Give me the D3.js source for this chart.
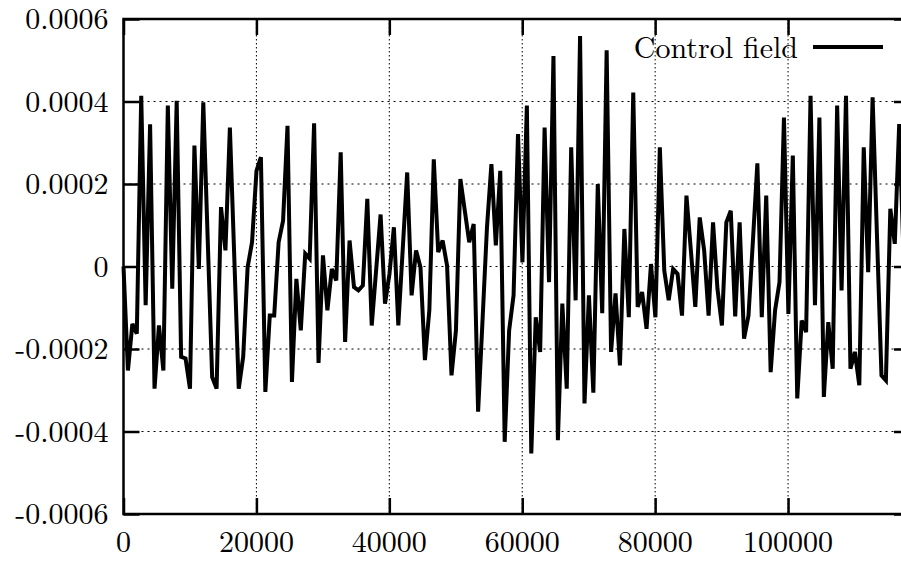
<!DOCTYPE html>
<html><head><meta charset="utf-8">
<script src="https://cdn.jsdelivr.net/npm/d3@7"></script>
<style>html,body{margin:0;padding:0;background:#fff;overflow:hidden}</style>
</head><body>
<script>
// ---- data ----
const stepX = 667;
const controlField = [
 0,-2.52,-1.39,-1.63,4.14,-0.94,3.45,-2.96,-1.43,-2.52,
 3.90,-0.54,4.02,-2.19,-2.23,-2.96,2.93,-0.06,3.98,0.65,
 -2.68,-2.96,1.44,0.39,3.37,0.20,-2.96,-2.19,-0.02,0.59,
 2.32,2.65,-3.04,-1.19,-1.19,0.59,1.11,3.41,-2.80,-0.30,
 -1.55,0.31,0.19,3.47,-2.34,0.27,-1.06,-0.06,-0.34,2.77,
 -1.83,0.63,-0.50,-0.58,-0.46,1.64,-1.43,-0.08,1.26,-0.90,
 -0.18,0.95,-1.43,0.43,2.28,-0.70,0.39,-0.02,-2.27,-1.06,
 2.60,0.35,0.63,0.02,-2.64,-1.55,2.12,1.35,0.59,1.03,
 -3.52,-1.30,0.95,2.48,0.51,2.32,-4.25,-1.55,-0.70,3.21,
 0.10,3.90,-4.53,-1.23,-2.07,3.37,-0.38,5.10,-4.21,-0.90,
 -2.96,2.89,-0.82,5.59,-3.32,-0.70,-3.06,2.00,-1.13,5.24,
 -2.07,-0.65,-2.40,0.91,-1.23,4.22,-0.98,-0.62,-1.51,0.06,
 -1.23,2.89,-0.10,-0.82,-0.06,-0.18,-1.19,1.72,0.39,-0.98,
 1.19,0.39,-1.19,1.07,-0.54,-1.43,1.07,1.35,-1.21,1.07,
 -1.75,-1.19,0.63,2.50,-1.23,1.72,-2.56,-1.06,-0.38,3.61,
 -1.15,2.69,-3.20,-1.31,-1.59,4.14,-0.94,3.61,-3.16,-1.35,
 -2.48,3.90,-0.58,4.14,-2.48,-2.07,-2.88,2.89,-0.14,4.10,
 0.70,-2.64,-2.76,1.40,0.55,3.45,0.20
].map(v => v * 1e-4);
const xTicks = [0, 20000, 40000, 60000, 80000, 100000];
const yTicks = [-0.0006, -0.0004, -0.0002, 0, 0.0002, 0.0004, 0.0006];
const yTickLabels = ["-0.0006","-0.0004","-0.0002","0","0.0002","0.0004","0.0006"];
const legendLabel = "Control field";

// ---- layout ----
const W = 901, H = 561;
const pL = 123.5, pR = 910, pT = 19, pB = 514;
const font = '"Latin Modern Roman", "Liberation Serif", serif';
const fs = "30px";

const svg = d3.select("body").append("svg").attr("width", W).attr("height", H);
const x = d3.scaleLinear().domain([0, 118350]).range([pL, pR]);
const y = d3.scaleLinear().domain([-0.0006, 0.0006]).range([pB, pT]);

// grid
const g = svg.append("g");
g.selectAll("line.hg").data(yTicks.filter(t => t > -0.0006 && t < 0.0006)).join("line")
  .attr("x1", pL).attr("x2", pR).attr("y1", d => y(d)).attr("y2", d => y(d))
  .attr("stroke", "#000").attr("stroke-width", 1).attr("stroke-dasharray", "2,4");
g.selectAll("line.vg").data(xTicks.filter(t => t > 0)).join("line")
  .attr("y1", pT).attr("y2", pB).attr("x1", d => x(d)).attr("x2", d => x(d))
  .attr("stroke", "#000").attr("stroke-width", 1).attr("stroke-dasharray", "1.5,2.5");

// axes (inward ticks, mirrored)
const tl = 16;
const axL = d3.axisLeft(y).tickValues(yTicks).tickSize(-tl).tickFormat("");
const axR = d3.axisRight(y).tickValues(yTicks).tickSize(-tl).tickFormat("");
const axB = d3.axisBottom(x).tickValues(xTicks).tickSize(-tl).tickFormat("");
const axT = d3.axisTop(x).tickValues(xTicks).tickSize(-tl).tickFormat("");
function styleAx(sel){ sel.select(".domain").remove(); sel.selectAll("line").attr("stroke","#000").attr("stroke-width",2.5); }
svg.append("g").attr("transform",`translate(${pL},0)`).call(axL).call(styleAx);
svg.append("g").attr("transform",`translate(${pR},0)`).call(axR).call(styleAx);
svg.append("g").attr("transform",`translate(0,${pB})`).call(axB).call(styleAx);
svg.append("g").attr("transform",`translate(0,${pT})`).call(axT).call(styleAx);

// border
svg.append("rect").attr("x", pL).attr("y", pT).attr("width", pR - pL).attr("height", pB - pT)
  .attr("fill", "none").attr("stroke", "#000").attr("stroke-width", 2.5);

// tick labels
svg.append("g").selectAll("text").data(yTicks).join("text")
  .attr("x", 108.5).attr("y", d => y(d) + 10.3).attr("text-anchor", "end")
  .style("font-family", font).style("font-size", fs).text((d, i) => yTickLabels[i]);
svg.append("g").selectAll("text").data(xTicks).join("text")
  .attr("x", d => x(d)).attr("y", 552).attr("text-anchor", "middle")
  .style("font-family", font).style("font-size", fs).text(d => String(d));

// data line
const line = d3.line().x((d, i) => x(i * stepX)).y(d => y(d));
svg.append("path").datum(controlField).attr("d", line)
  .attr("fill", "none").attr("stroke", "#000").attr("stroke-width", 4)
  .attr("stroke-linejoin", "miter").attr("stroke-miterlimit", 3);

// legend
svg.append("text").attr("x", 798).attr("y", 58).attr("text-anchor", "end")
  .style("font-family", font).style("font-size", fs).text(legendLabel);
svg.append("line").attr("x1", 813).attr("x2", 883).attr("y1", 47).attr("y2", 47)
  .attr("stroke", "#000").attr("stroke-width", 4);
</script>
</body></html>
